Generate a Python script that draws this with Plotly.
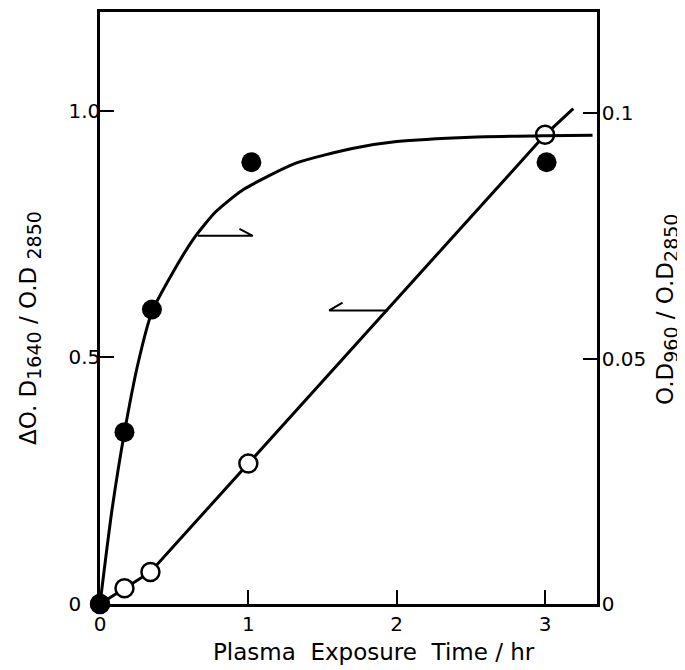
import plotly.graph_objects as go

# Data
# Open circles: ΔO.D1640/O.D2850 (left axis)
open_x = [0, 0.165, 0.34, 1.0, 3.0]
open_y = [0, 0.032, 0.065, 0.285, 0.951]
# drawn line through open circles (extends past last point)
open_line_x = [0, 0.165, 0.34, 1.0, 3.0, 3.19]
open_line_y = [0, 0.032, 0.065, 0.285, 0.951, 1.004]

# Filled circles: O.D960/O.D2850 (right axis)
filled_x = [0, 0.165, 0.35, 1.02, 3.01]
filled_y = [0, 0.035, 0.060, 0.090, 0.090]
# drawn saturation curve for filled circles
filled_line_x = [0, 0.08, 0.165, 0.26, 0.35, 0.49, 0.64, 0.78, 0.96, 1.32, 1.7, 2.0, 2.5, 3.0, 3.32]
filled_line_y = [0, 0.019, 0.035, 0.0495, 0.0595, 0.0675, 0.0748, 0.0799, 0.0843, 0.0898, 0.0928, 0.0942, 0.0951, 0.0954, 0.0955]

# arrows (data coords): right-pointing on right axis, left-pointing on left axis
arrow_r_x = [0.66, 1.03]
arrow_r_y = 0.075
arrow_l_x = [1.545, 1.94]
arrow_l_y = 0.595

x_ticks = [0, 1, 2, 3]
y_ticks = [0, 0.5, 1.0]
y_ticktext = ["0\u00a0\u00a0\u00a0", "0.5", "1.0"]
y2_ticks = [0, 0.05, 0.1]
y2_ticktext = ["0", "0.05", "0.1"]

x_title = "Plasma\u00a0\u00a0Exposure\u00a0\u00a0Time / hr"
y_title = ("ΔO. D<sub><span style='font-size:19px'>1640</span></sub> / O.D "
           "<sub><span style='font-size:19px'>2850</span></sub>")
y2_title = ("O.D<sub><span style='font-size:19px'>960</span></sub> / O.D"
            "<sub><span style='font-size:19px'>2850</span></sub>")

FONT = "DejaVu Sans"
fig = go.Figure()

fig.add_trace(go.Scatter(x=open_line_x, y=open_line_y, mode="lines",
                         line=dict(color="black", width=3), yaxis="y", showlegend=False))
fig.add_trace(go.Scatter(x=filled_line_x, y=filled_line_y, mode="lines",
                         line=dict(color="black", width=3, shape="spline", smoothing=0.6),
                         yaxis="y2", showlegend=False))
fig.add_trace(go.Scatter(x=open_x, y=open_y, mode="markers", cliponaxis=False,
                         marker=dict(size=18, color="white", line=dict(color="black", width=2.5)),
                         yaxis="y", showlegend=False))
fig.add_trace(go.Scatter(x=filled_x, y=filled_y, mode="markers", cliponaxis=False,
                         marker=dict(size=20, color="black", line=dict(color="black", width=0)),
                         yaxis="y2", showlegend=False))

# half-barb arrows
fig.add_trace(go.Scatter(
    x=[arrow_r_x[0], arrow_r_x[1], arrow_r_x[1] - 0.09],
    y=[arrow_r_y, arrow_r_y, arrow_r_y + 0.0014],
    mode="lines", line=dict(color="black", width=2), yaxis="y2", showlegend=False))
fig.add_trace(go.Scatter(
    x=[arrow_l_x[1], arrow_l_x[0], arrow_l_x[0] + 0.09],
    y=[arrow_l_y, arrow_l_y, arrow_l_y + 0.016],
    mode="lines", line=dict(color="black", width=2), yaxis="y", showlegend=False))

tickfont = dict(family=FONT, size=20, color="black")
titlefont = dict(family=FONT, size=23, color="black")
fig.update_layout(
    width=677, height=662,
    margin=dict(l=92, r=88, t=4, b=66, autoexpand=False),
    paper_bgcolor="white", plot_bgcolor="white",
    xaxis=dict(range=[0, 3.35], tickvals=x_ticks, ticks="inside", ticklen=14, tickwidth=2,
               tickcolor="black", showline=True, linecolor="black", linewidth=2.5, mirror=True,
               showgrid=False, zeroline=False, tickfont=tickfont, automargin=False),
    yaxis=dict(range=[0, 1.2], tickvals=y_ticks, ticktext=y_ticktext, ticks="inside", ticklen=14,
               tickwidth=2, tickcolor="black", showline=True, linecolor="black", linewidth=2.5,
               showgrid=False, zeroline=False, tickfont=tickfont, ticklabelstandoff=-7,
               automargin=False),
    yaxis2=dict(range=[0, 0.1206], tickvals=y2_ticks, ticktext=y2_ticktext, overlaying="y", side="right",
                ticks="inside", ticklen=14, tickwidth=2, tickcolor="black", showline=True,
                linecolor="black", linewidth=2.5, showgrid=False, zeroline=False, tickfont=tickfont,
                ticklabelstandoff=-2, automargin=False),
    annotations=[
        dict(text=x_title, xref="paper", yref="paper", x=0.5, y=0, xshift=25, yshift=-48,
             xanchor="center", yanchor="middle", showarrow=False, font=dict(family=FONT, size=23, color="black")),
        dict(text=y_title, xref="paper", yref="paper", x=0, y=0.5, xshift=-70, yshift=-20,
             xanchor="center", yanchor="middle", textangle=-90, showarrow=False, font=titlefont),
        dict(text=y2_title, xref="paper", yref="paper", x=1, y=0.5, xshift=70, yshift=-2,
             xanchor="center", yanchor="middle", textangle=-90, showarrow=False, font=titlefont),
    ],
)

fig.write_html("out.html")
